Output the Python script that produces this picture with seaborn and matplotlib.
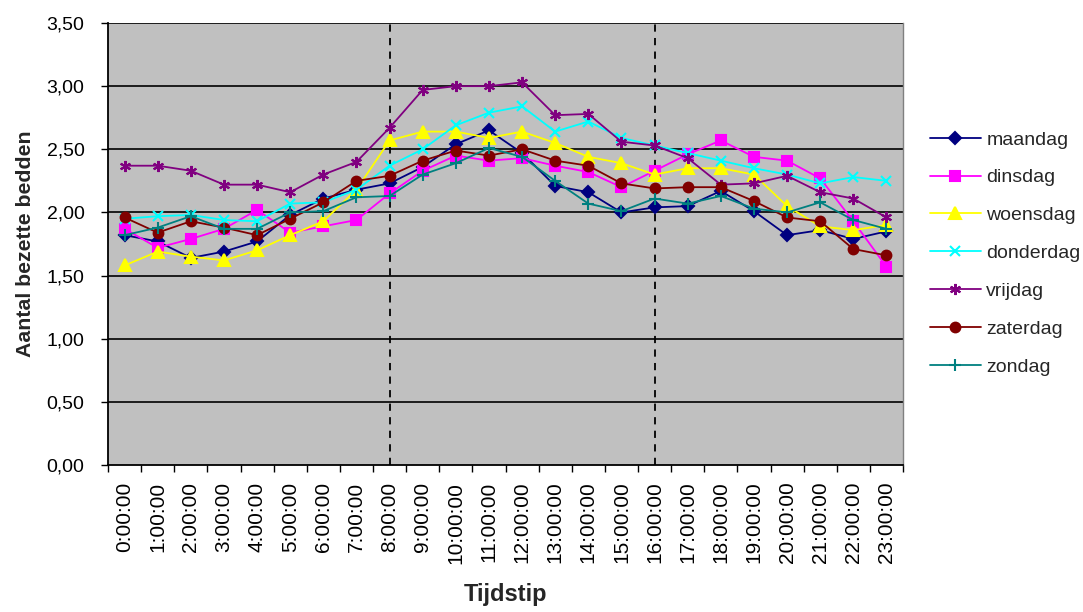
import matplotlib
matplotlib.use("Agg")
import matplotlib.pyplot as plt
import seaborn as sns
import numpy as np
import pandas as pd
from matplotlib.ticker import FuncFormatter, FixedLocator

hours = [f"{h}:00:00" for h in range(24)]

maandag = [1.82, 1.77, 1.64, 1.69, 1.77, 1.98, 2.11, 2.18, 2.23, 2.36, 2.54, 2.65,
           2.47, 2.21, 2.16, 2.00, 2.04, 2.05, 2.17, 2.01, 1.82, 1.86, 1.79, 1.85]
dinsdag = [1.87, 1.72, 1.79, 1.87, 2.02, 1.84, 1.89, 1.94, 2.15, 2.33, 2.45, 2.41,
           2.43, 2.37, 2.32, 2.20, 2.33, 2.46, 2.57, 2.44, 2.41, 2.27, 1.93, 1.57]
woensdag = [1.58, 1.69, 1.65, 1.62, 1.70, 1.82, 1.93, 2.18, 2.57, 2.64, 2.64, 2.59,
            2.64, 2.55, 2.44, 2.39, 2.30, 2.35, 2.35, 2.30, 2.05, 1.89, 1.86, 1.90]
donderdag = [1.95, 1.97, 1.98, 1.94, 1.93, 2.07, 2.08, 2.18, 2.37, 2.50, 2.69, 2.79,
             2.84, 2.64, 2.72, 2.59, 2.53, 2.47, 2.41, 2.35, 2.30, 2.23, 2.28, 2.25]
vrijdag = [2.37, 2.37, 2.33, 2.22, 2.22, 2.16, 2.30, 2.40, 2.67, 2.97, 3.00, 3.00,
           3.03, 2.77, 2.78, 2.56, 2.53, 2.43, 2.22, 2.23, 2.29, 2.16, 2.11, 1.96]
zaterdag = [1.96, 1.84, 1.93, 1.88, 1.82, 1.95, 2.08, 2.25, 2.29, 2.41, 2.49, 2.45,
            2.50, 2.41, 2.37, 2.23, 2.19, 2.20, 2.20, 2.09, 1.96, 1.93, 1.71, 1.66]
zondag = [1.82, 1.88, 1.97, 1.87, 1.87, 2.00, 2.01, 2.12, 2.13, 2.30, 2.39, 2.51,
          2.44, 2.25, 2.07, 2.01, 2.11, 2.07, 2.13, 2.03, 2.00, 2.08, 1.94, 1.87]

series_names = ["maandag", "dinsdag", "woensdag", "donderdag", "vrijdag", "zaterdag", "zondag"]
series_values = [maandag, dinsdag, woensdag, donderdag, vrijdag, zaterdag, zondag]
colors = ["#000080", "#FF00FF", "#FFFF00", "#00FFFF", "#800080", "#800000", "#008080"]
markers = ["D", "s", "^", "x", (6, 2, 0), "o", "+"]
msizes = [6, 7, 8, 7, 8, 7, 8]

y_ticks = [0, 0.5, 1.0, 1.5, 2.0, 2.5, 3.0, 3.5]
x_label = "Tijdstip"
y_label = "Aantal bezette bedden"

sns.set_theme(style="white")
plt.rcParams['font.family'] = ['Liberation Sans', 'DejaVu Sans']

fig = plt.figure(figsize=(10.83, 6.12), dpi=100)
ax = fig.add_axes([108/1083, 1 - 465/612, (903-108)/1083, (465-23)/612])
ax.set_facecolor("#C0C0C0")

x_idx = np.arange(len(hours))
for name, vals, c, m, ms in zip(series_names, series_values, colors, markers, msizes):
    df = pd.DataFrame({"x": x_idx, "y": vals})
    sns.lineplot(data=df, x="x", y="y", ax=ax, color=c, marker=m, markersize=ms,
                 markeredgecolor=c, markerfacecolor=c, markeredgewidth=1.5,
                 linewidth=1.3, label=name, legend=False, zorder=3)

ax.set_xlim(-0.5, 23.5)
ax.set_ylim(0, 3.5)

for yv in y_ticks[1:]:
    ax.axhline(yv, color="black", linewidth=1.2, zorder=1)
for xv in [8, 16]:
    ax.axvline(xv, color="black", linewidth=1.3, linestyle=(0, (4, 3.5)), zorder=2)

ax.yaxis.set_major_locator(FixedLocator(y_ticks))
ax.yaxis.set_major_formatter(FuncFormatter(lambda v, p: f"{v:.2f}".replace(".", ",")))
ax.set_xticks(x_idx)
ax.set_xticklabels(hours, rotation=90)
ax.set_xticks(np.arange(-0.5, 24, 1), minor=True)
ax.tick_params(axis="x", which="major", length=0, pad=12, labelsize=15, colors="black")
ax.tick_params(axis="x", which="minor", length=5, width=1, direction="out", color="black", bottom=True)
ax.tick_params(axis="y", which="major", length=5, width=1, direction="out", left=True,
               labelsize=14, colors="black", pad=12)

for s in ["left", "bottom"]:
    ax.spines[s].set_color("black")
    ax.spines[s].set_linewidth(1.3)
ax.spines["top"].set_visible(False)
ax.spines["right"].set_color("#808080")
ax.spines["right"].set_linewidth(1.0)

ax.set_xlabel(x_label, fontsize=17, fontweight="bold", labelpad=14)
ax.set_ylabel(y_label, fontsize=15.3, fontweight="bold", labelpad=8)

handles, labels = ax.get_legend_handles_labels()
fig.legend(handles, labels, loc="upper left", bbox_to_anchor=(930/1083, 1 - 131/612),
           frameon=False, fontsize=14, handlelength=2.6, handletextpad=0.3,
           labelspacing=1.04, borderpad=0, borderaxespad=0)

fig.savefig("out.png", dpi=100, facecolor="white")
